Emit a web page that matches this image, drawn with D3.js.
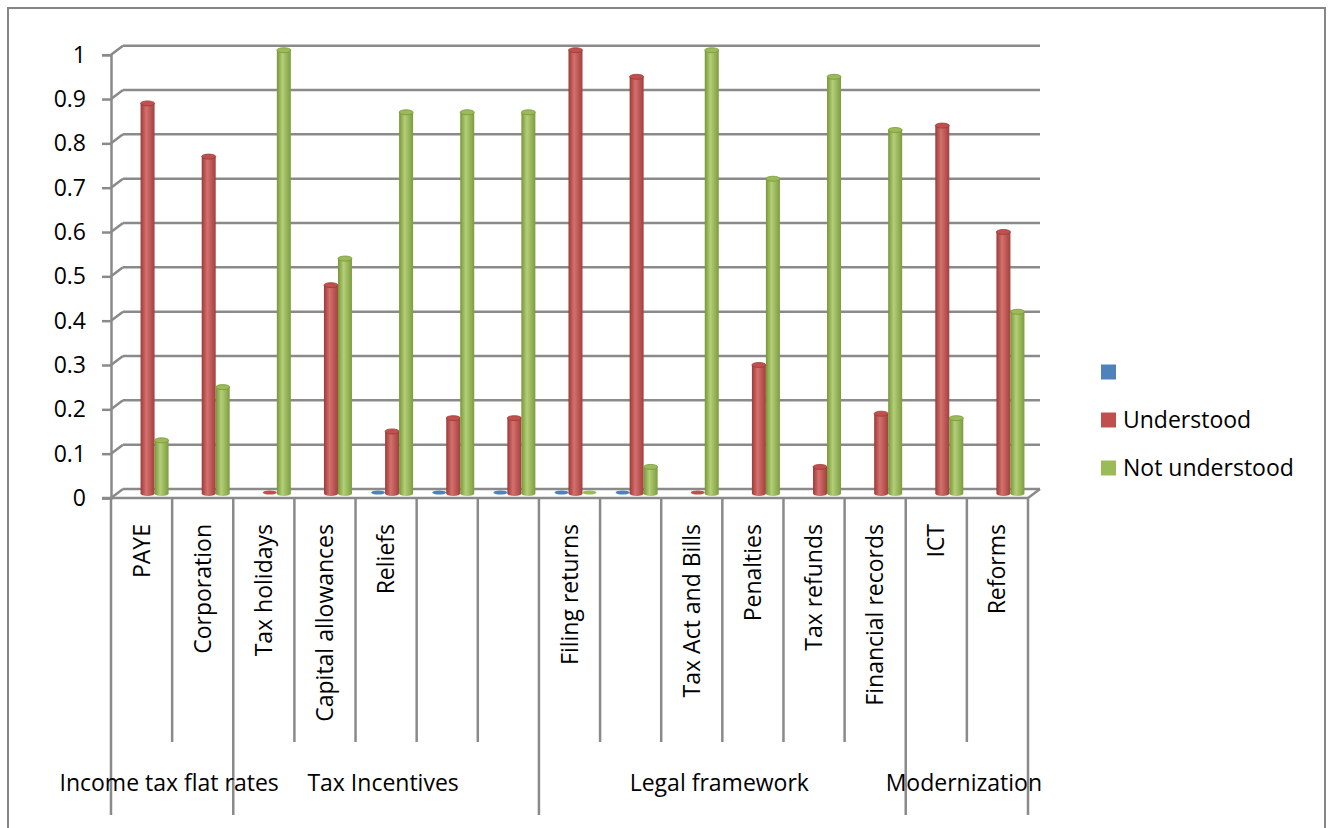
<!DOCTYPE html>
<html><head><meta charset="utf-8">
<script src="https://cdn.jsdelivr.net/npm/d3@7"></script>
<style>
html,body{margin:0;padding:0;background:#fff;}
svg text{font-family:"Open Sans",sans-serif;fill:#000;}
</style></head>
<body><svg id="c" width="1333" height="828"></svg>
<script>
const categories = ["PAYE","Corporation","Tax holidays","Capital allowances","Reliefs","","","Filing returns","","Tax Act and Bills","Penalties","Tax refunds","Financial records","ICT","Reforms"];
const groupNames = ["Income tax flat rates","Tax Incentives","Legal framework","Modernization"];
const groupSizes = [2,5,6,2];
const seriesNames = ["","Understood","Not understood"];
const blankSeries = [null,null,null,null,0,0,0,0,0,null,null,null,null,null,null];
const understood = [0.88,0.76,0,0.47,0.14,0.17,0.17,1.0,0.94,0,0.29,0.06,0.18,0.83,0.59];
const notUnderstood = [0.12,0.24,1.0,0.53,0.86,0.86,0.86,0,0.06,1.0,0.71,0.94,0.82,0.17,0.41];
const yTicks = [0,0.1,0.2,0.3,0.4,0.5,0.6,0.7,0.8,0.9,1];

const colors = ["#4F81BD","#C0504D","#9BBB59"];
const shades = [["#3a6496","#6f9ad0","#3f6a9e"],["#9c3a37","#d4706d","#a3403d"],["#789638","#b3cf78","#7d9c3e"]];
const seriesData = [blankSeries, understood, notUnderstood];

const svg = d3.select("#c");
const grid = "#8a8a8a";
const x0 = 111, x1 = 1028, dx = 12, dy = -9;
const y = d3.scaleLinear().domain([0,1]).range([498,54.7]);
const xb = d3.scaleBand().domain(d3.range(categories.length)).range([x0,x1]).padding(0);
const xs = d3.scaleBand().domain(d3.range(3)).range([0,42]);

// gradients
const defs = svg.append("defs");
shades.forEach((s,i)=>{
  const g = defs.append("linearGradient").attr("id","g"+i).attr("x1","0").attr("x2","1").attr("y1","0").attr("y2","0");
  g.append("stop").attr("offset","0%").attr("stop-color",s[0]);
  g.append("stop").attr("offset","40%").attr("stop-color",s[1]);
  g.append("stop").attr("offset","100%").attr("stop-color",s[2]);
});

// outer border
svg.append("rect").attr("x",8).attr("y",8).attr("width",1317).attr("height",840)
  .attr("fill","none").attr("stroke","#868686").attr("stroke-width",2);

// back gridlines + diagonals + ticks
yTicks.forEach(t=>{
  const yy = y(t);
  svg.append("line").attr("x1",x0+dx).attr("x2",x1+dx).attr("y1",yy+dy).attr("y2",yy+dy).attr("stroke",grid).attr("stroke-width",2.5);
  svg.append("line").attr("x1",x0).attr("x2",x0+dx).attr("y1",yy).attr("y2",yy+dy).attr("stroke",grid).attr("stroke-width",2.5);
});
// floor right edge
svg.append("line").attr("x1",x1).attr("x2",x1+dx).attr("y1",y(0)).attr("y2",y(0)+dy).attr("stroke",grid).attr("stroke-width",2.5);

// y axis
const yAxis = d3.axisLeft(y).tickValues(yTicks).tickFormat(d3.format("~g")).tickSize(9).tickPadding(16);
const ga = svg.append("g").attr("transform",`translate(${x0},0)`).call(yAxis);
ga.select(".domain").attr("stroke",grid).attr("stroke-width",2.5);
ga.selectAll(".tick line").attr("stroke",grid).attr("stroke-width",2.5);
ga.selectAll(".tick text").style("font-size","23px").attr("fill","#000");

// x axis line (floor front)
svg.append("line").attr("x1",x0-9).attr("x2",x1).attr("y1",y(0)).attr("y2",y(0)).attr("stroke",grid).attr("stroke-width",2.5);

// bars
const barsG = svg.append("g").attr("transform",`translate(${dx/2},${dy/2})`);
seriesData.forEach((vals,si)=>{
  vals.forEach((v,ci)=>{
    if(v===null) return;
    const bx = xb(ci) + xb.bandwidth()/2 - 21 + xs(si);
    const w = xs.bandwidth();
    if(v===0){
      barsG.append("ellipse").attr("cx",bx+w/2).attr("cy",y(0)-1).attr("rx",w/2).attr("ry",2)
        .attr("fill",colors[si]);
      return;
    }
    barsG.append("rect").attr("x",bx).attr("y",y(v)).attr("width",w).attr("height",y(0)-y(v))
      .attr("fill",`url(#g${si})`);
    barsG.append("ellipse").attr("cx",bx+w/2).attr("cy",y(0)).attr("rx",w/2).attr("ry",2.5).attr("fill",`url(#g${si})`);
    barsG.append("ellipse").attr("cx",bx+w/2).attr("cy",y(v)).attr("rx",w/2).attr("ry",2.5)
      .attr("fill",colors[si]).attr("stroke",shades[si][0]).attr("stroke-width",0.8);
  });
});

// category separators
const groupBounds = [0];
groupSizes.forEach((s,i)=>groupBounds.push(groupBounds[i]+s));
d3.range(categories.length+1).forEach(i=>{
  const xx = i===categories.length ? x1 : xb(i);
  const isGroup = groupBounds.includes(i);
  svg.append("line").attr("x1",xx).attr("x2",xx).attr("y1",y(0)).attr("y2",isGroup?815:742)
    .attr("stroke",grid).attr("stroke-width",2.5);
});

// category labels
categories.forEach((c,i)=>{
  const cx = xb(i)+xb.bandwidth()/2;
  svg.append("text").attr("transform",`translate(${cx},524) rotate(-90)`)
    .attr("text-anchor","end").attr("dy","0.35em").style("font-size","23px").text(c);
});

// group labels
groupNames.forEach((g,i)=>{
  const a = xb(groupBounds[i]);
  const b = groupBounds[i+1]===categories.length ? x1 : xb(groupBounds[i+1]);
  svg.append("text").attr("x",(a+b)/2-3).attr("y",791).attr("text-anchor","middle").style("font-size","23px").text(g);
});

// legend
seriesNames.forEach((n,i)=>{
  const ly = 372 + i*48;
  svg.append("rect").attr("x",1101).attr("y",ly-7.5).attr("width",15).attr("height",15).attr("fill",colors[i]);
  svg.append("text").attr("x",1123).attr("y",ly).attr("dy","0.35em").style("font-size","23px").text(n);
});
</script></body></html>
